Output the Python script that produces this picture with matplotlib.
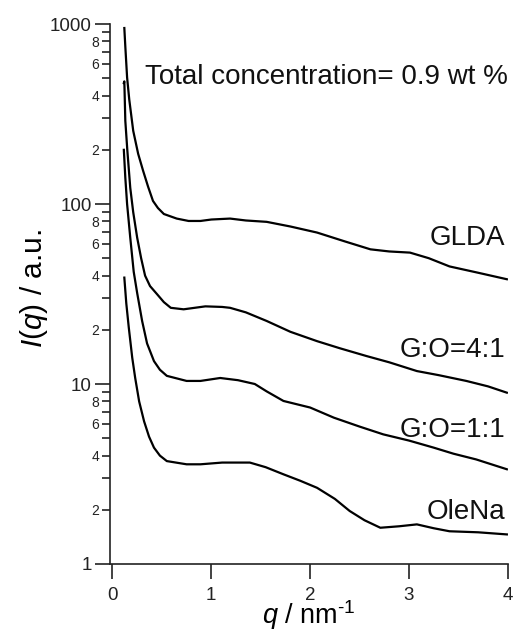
import matplotlib
matplotlib.use("Agg")
import matplotlib.pyplot as plt
from matplotlib.ticker import FixedLocator, FixedFormatter, NullLocator

plt.rcParams.update(
    {
        "font.family": ["Liberation Sans", "DejaVu Sans"],
        "mathtext.fontset": "custom",
        "mathtext.rm": "Liberation Sans",
        "mathtext.it": "Liberation Sans:italic",
        "axes.unicode_minus": False,
    }
)

# SAXS profiles
q_glda = [0.12, 0.13, 0.148, 0.17, 0.21, 0.26, 0.31, 0.36, 0.41, 0.46, 0.52, 0.65, 0.77,
          0.89, 1.00, 1.19, 1.35, 1.56, 1.80, 2.07, 2.35, 2.61, 2.80, 3.01, 3.20, 3.41,
          3.70, 3.99]
i_glda = [950, 750, 505, 380, 255, 190, 153, 125, 104, 95, 88, 83, 80.5,
          80.5, 82, 83, 81, 79.6, 75, 69.4, 62, 56, 54.5, 53.7, 50, 45,
          41.5, 38.2]

q_go41 = [0.115, 0.12, 0.13, 0.15, 0.18, 0.21, 0.25, 0.29, 0.33, 0.38, 0.45, 0.52,
          0.59, 0.72, 0.94, 1.11, 1.19, 1.35, 1.56, 1.80, 2.07, 2.30, 2.57, 2.80, 3.08,
          3.30, 3.58, 3.80, 3.99]
i_go41 = [470, 480, 290, 200, 123, 90, 65, 50, 40, 35, 31.6, 28.5,
          26.5, 26, 27, 26.8, 26.5, 25, 22.4, 19.5, 17.3, 15.8, 14.3, 13.2, 11.8,
          11.2, 10.4, 9.7, 8.95]

q_go11 = [0.115, 0.13, 0.148, 0.18, 0.215, 0.25, 0.30, 0.35, 0.42, 0.48, 0.55, 0.75,
          0.89, 1.09, 1.27, 1.44, 1.56, 1.73, 2.00, 2.24, 2.50, 2.74, 3.00, 3.25, 3.45,
          3.68, 3.99]
i_go11 = [200, 140, 100, 65, 42, 32, 22.4, 16.8, 13.4, 12.0, 11.1, 10.4,
          10.4, 10.8, 10.5, 10.0, 9.1, 8.05, 7.4, 6.5, 5.8, 5.25, 4.85, 4.43, 4.1,
          3.81, 3.36]

q_olena = [0.12, 0.14, 0.165, 0.20, 0.23, 0.27, 0.32, 0.37, 0.42, 0.48, 0.55, 0.75,
           0.89, 1.11, 1.39, 1.55, 1.73, 1.90, 2.07, 2.25, 2.40, 2.55, 2.71, 2.90, 3.08,
           3.25, 3.41, 3.70, 3.99]
i_olena = [39, 28, 20.6, 14, 10.8, 8.0, 6.2, 5.1, 4.43, 4.0, 3.73, 3.58,
           3.58, 3.66, 3.66, 3.45, 3.15, 2.9, 2.65, 2.3, 1.97, 1.75, 1.59, 1.62, 1.66,
           1.58, 1.52, 1.5, 1.46]

curve_labels = ["GLDA", "G:O=4:1", "G:O=1:1", "OleNa"]
label_y = [0.604, 0.396, 0.248, 0.096]

major_y = [1, 10, 100, 1000]
minor_y = [m * d for d in (1, 10, 100) for m in range(2, 10)]
minor_lab = [str(m) if m % 2 == 0 else "" for d in (1, 10, 100) for m in range(2, 10)]

fig = plt.figure(figsize=(5.14, 6.32), dpi=100)
ax = fig.add_axes([0.214, 0.1076, 0.774, 0.8544])

for q, i in [(q_glda, i_glda), (q_go41, i_go41), (q_go11, i_go11), (q_olena, i_olena)]:
    ax.plot(q, i, color="black", lw=1.6)

ax.set_yscale("log")
ax.set_ylim(1, 1000)
ax.set_xlim(-0.025, 4.0)

ax.yaxis.set_major_locator(FixedLocator(major_y))
ax.yaxis.set_major_formatter(FixedFormatter([str(v) for v in major_y]))
ax.yaxis.set_minor_locator(FixedLocator(minor_y))
ax.yaxis.set_minor_formatter(FixedFormatter(minor_lab))
ax.set_xticks([0, 1, 2, 3, 4])
ax.set_xticklabels(["0", "1", "2", "3", "4"])
ax.xaxis.set_minor_locator(NullLocator())

for s in ("top", "right"):
    ax.spines[s].set_visible(False)
for s in ("left", "bottom"):
    ax.spines[s].set_linewidth(1.2)
    ax.spines[s].set_color("#222222")

ax.tick_params(axis="y", which="major", direction="out", length=11, width=1.2,
               labelsize=13.5, pad=2, colors="#222222")
ax.tick_params(axis="y", which="minor", direction="out", length=6, width=1.2,
               labelsize=10, pad=2, colors="#222222")
ax.tick_params(axis="x", which="major", direction="out", length=11, width=1.2,
               labelsize=13.5, pad=5.5, colors="#222222")

ax.set_xlabel(r"$q$ / nm$^{\mathregular{\text{-}1}}$", fontsize=19.5, labelpad=-3.8)
ax.set_ylabel(r"$\mathit{I(q)}$ / a.u.", fontsize=21.5)
ax.yaxis.set_label_coords(-0.150, 0.511)

ax.text(1.0, 0.902, "Total concentration= 0.9 wt %", transform=ax.transAxes,
        ha="right", va="center", fontsize=20, color="#111111")
for lab, y in zip(curve_labels, label_y):
    ax.text(0.993, y, lab, transform=ax.transAxes, ha="right", va="center",
            fontsize=20, color="#111111")

fig.savefig("out.png", dpi=100)
